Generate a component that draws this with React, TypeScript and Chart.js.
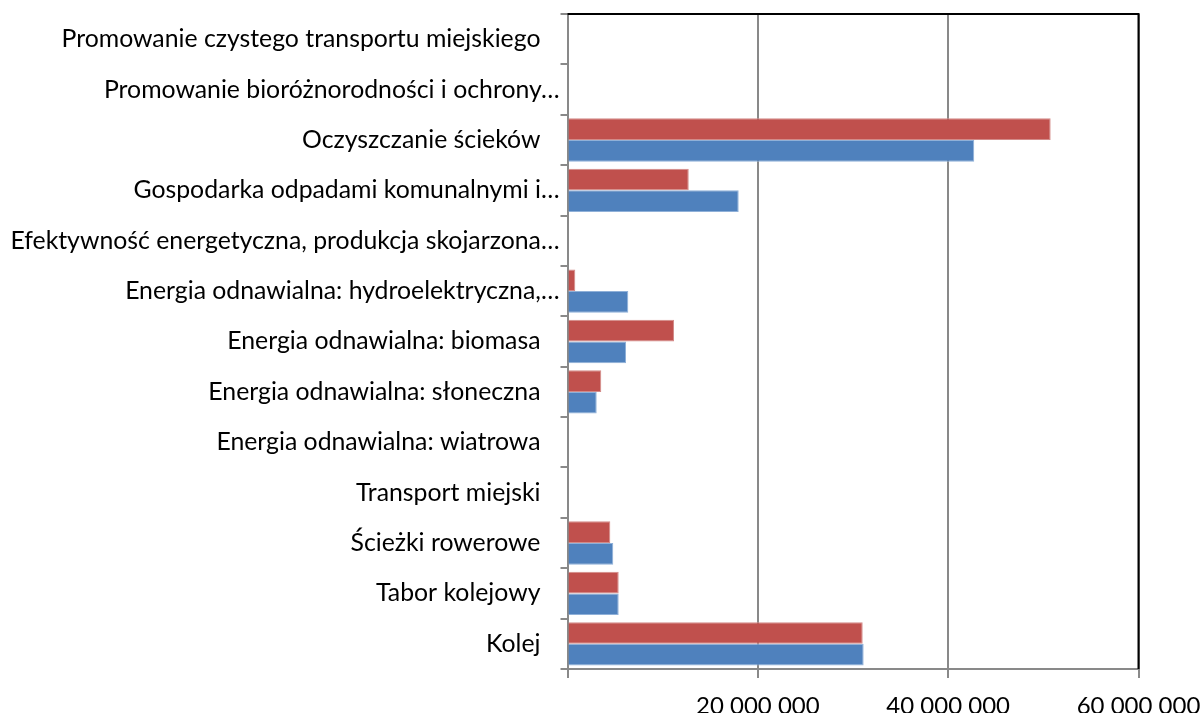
import React, { useEffect, useRef } from "react";
import { Chart, registerables } from "chart.js";

Chart.register(...registerables);

const categories = [
  "Promowanie czystego transportu miejskiego",
  "Promowanie bioróżnorodności i ochrony…",
  "Oczyszczanie ścieków",
  "Gospodarka odpadami komunalnymi i…",
  "Efektywność energetyczna, produkcja skojarzona…",
  "Energia odnawialna: hydroelektryczna,…",
  "Energia odnawialna: biomasa",
  "Energia odnawialna: słoneczna",
  "Energia odnawialna: wiatrowa",
  "Transport miejski",
  "Ścieżki rowerowe",
  "Tabor kolejowy",
  "Kolej",
];

const seriesRed = [0, 0, 50770000, 12740000, 0, 820000, 11190000, 3550000, 0, 0, 4500000, 5380000, 31020000];
const seriesBlue = [0, 0, 42740000, 17990000, 0, 6390000, 6150000, 3070000, 0, 0, 4810000, 5380000, 31120000];

const xMin = 0;
const xMax = 60000000;
const xStep = 20000000;

function formatNumber(v: number): string {
  if (v === 0) return "";
  return String(Math.round(v)).replace(/\B(?=(\d{3})+(?!\d))/g, " ");
}

const frameBorder = {
  id: "frameBorder",
  afterDatasetsDraw(chart: any) {
    const { ctx, chartArea } = chart;
    ctx.save();
    ctx.strokeStyle = "#000000";
    ctx.lineWidth = 2;
    ctx.beginPath();
    ctx.moveTo(chartArea.left, chartArea.top);
    ctx.lineTo(chartArea.right, chartArea.top);
    ctx.lineTo(chartArea.right, chartArea.bottom);
    ctx.stroke();
    ctx.restore();
  },
};

export default function App() {
  const ref = useRef<HTMLCanvasElement | null>(null);

  useEffect(() => {
    if (!ref.current) return;
    const chart = new Chart(ref.current, {
      type: "bar",
      data: {
        labels: categories,
        datasets: [
          {
            label: "A",
            data: seriesRed,
            backgroundColor: "#C0504D",
            borderColor: "#D38A88",
            borderWidth: 1,
            borderSkipped: "start",
          },
          {
            label: "B",
            data: seriesBlue,
            backgroundColor: "#4F81BD",
            borderColor: "#8FB0D8",
            borderWidth: 1,
            borderSkipped: "start",
          },
        ],
      },
      options: {
        indexAxis: "y",
        responsive: false,
        animation: false,
        maintainAspectRatio: false,
        layout: { padding: { top: 14, right: 61.5, left: 0, bottom: 0 } },
        datasets: { bar: { categoryPercentage: 0.86, barPercentage: 1 } },
        plugins: { legend: { display: false }, tooltip: { enabled: false } },
        scales: {
          x: {
            type: "linear",
            min: xMin,
            max: xMax,
            ticks: {
              stepSize: xStep,
              color: "#000000",
              font: { family: "Lato", size: 24 },
              padding: 14,
              maxRotation: 0,
              callback: (v: any) => formatNumber(Number(v)),
            },
            grid: {
              color: "#898989",
              lineWidth: 2,
              tickLength: 9,
              drawOnChartArea: true,
            },
            border: { display: true, color: "#898989", width: 2 },
            afterFit: (s: any) => {
              s.height = 44;
              s.paddingRight = 0;
              s.paddingLeft = 0;
            },
          },
          y: {
            type: "category",
            ticks: {
              color: "#000000",
              font: { family: "Lato", size: 24.8 },
              padding: 1,
              autoSkip: false,
              callback: function (this: any, _v: any, i: number) {
                const l = categories[i];
                return l.endsWith("…") ? l : l + "   ";
              },
            },
            grid: {
              color: "#898989",
              lineWidth: 2,
              tickLength: 7,
              drawOnChartArea: false,
              offset: true,
            },
            border: { display: true, color: "#898989", width: 2 },
            afterFit: (s: any) => {
              s.width = 567.5;
              s.paddingTop = 0;
              s.paddingBottom = 0;
            },
          },
        },
      },
      plugins: [frameBorder],
    });
    return () => chart.destroy();
  }, []);

  return (
    <div style={{ position: "absolute", left: 0, top: 0, width: 1200, height: 713, background: "#ffffff" }}>
      <canvas ref={ref} width={1200} height={713} />
    </div>
  );
}
